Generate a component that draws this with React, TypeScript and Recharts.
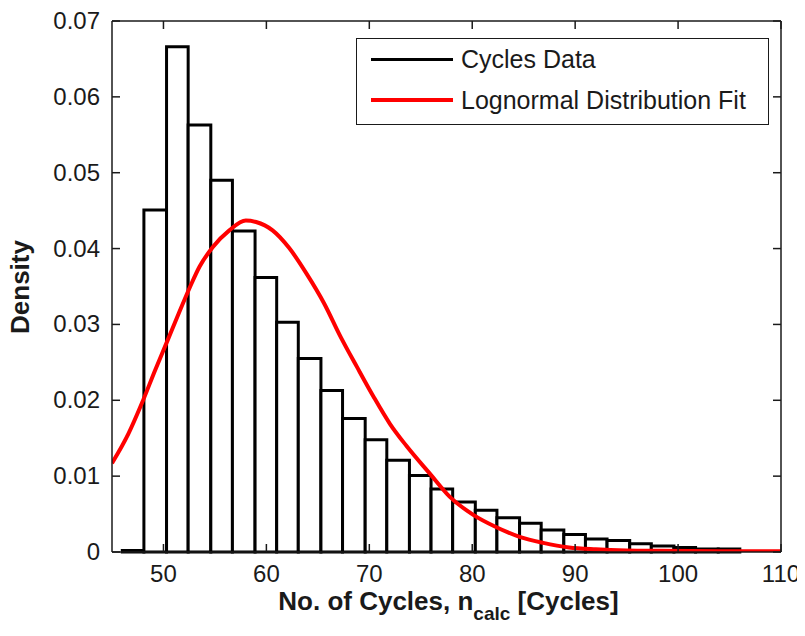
import { ComposedChart, Line, XAxis, YAxis, ReferenceArea, Legend } from "recharts";

// histogram bins (edges + density per bin)
const binEdges = [
  46.0, 48.1, 50.3, 52.4, 54.6, 56.7, 58.9, 61.0, 63.1, 65.3, 67.4, 69.6, 71.7, 73.9, 76.0,
  78.1, 80.3, 82.4, 84.6, 86.7, 88.9, 91.0, 93.1, 95.3, 97.4, 99.6, 101.7, 103.9, 106.0,
];
const binDensity = [
  0.0002, 0.0451, 0.0666, 0.0563, 0.049, 0.0423, 0.0362, 0.0303, 0.0255, 0.0213, 0.0176,
  0.0148, 0.0121, 0.0101, 0.0083, 0.0066, 0.0055, 0.0045, 0.0038, 0.0029, 0.0023, 0.0017,
  0.0015, 0.0011, 0.0008, 0.0006, 0.0004, 0.0004,
];

// lognormal fit curve samples
const fitX = [
  45, 46.6, 47.9, 49.2, 50.4, 51.5, 52.6, 53.5, 54.8, 56.4, 58, 59, 60.6, 62.2, 63.9, 65.6,
  67.2, 68.8, 70.4, 72, 73.6, 75.9, 77.8, 80.1, 82.3, 84.6, 86.9, 89.4, 92, 95, 98.4, 104, 110,
];
const fitDensity = [
  0.0117, 0.0156, 0.0196, 0.024, 0.0279, 0.0315, 0.035, 0.0376, 0.0402, 0.0424, 0.0437,
  0.0435, 0.0424, 0.0401, 0.0367, 0.0328, 0.0284, 0.0244, 0.0205, 0.0169, 0.014, 0.0103,
  0.0073, 0.0049, 0.0033, 0.002, 0.0012, 0.0006, 0.00035, 0.0002, 0.00015, 0.0001, 0.0001,
];

const xTicks = [50, 60, 70, 80, 90, 100, 110];
const yTicks = [0, 0.01, 0.02, 0.03, 0.04, 0.05, 0.06, 0.07];

const legendItems = [
  { label: "Cycles Data", color: "#000000", width: 3 },
  { label: "Lognormal Distribution Fit", color: "#ff0000", width: 4 },
];

const FONT = '"Liberation Sans", Arial, Helvetica, sans-serif';
const INK = "#1a1a1a";
const TICK_LEN = 8;

const data = fitX.map((x, i) => ({ x, fit: fitDensity[i] }));

const fmtY = (v: number) => (v === 0 ? "0" : v.toFixed(2));

function BottomTick({ x, y, payload }: any) {
  return (
    <g>
      <line x1={x} y1={y} x2={x} y2={y - TICK_LEN} stroke={INK} strokeWidth={1.5} />
      <text x={x} y={y + 30} textAnchor="middle" fontFamily={FONT} fontSize={24} fill={INK}>
        {payload.value}
      </text>
    </g>
  );
}

function TopTick({ x, y }: any) {
  return <line x1={x} y1={y} x2={x} y2={y + TICK_LEN} stroke={INK} strokeWidth={1.5} />;
}

function LeftTick({ x, y, payload }: any) {
  return (
    <g>
      <line x1={x} y1={y} x2={x + TICK_LEN} y2={y} stroke={INK} strokeWidth={1.5} />
      <text x={x - 12} y={y + 8} textAnchor="end" fontFamily={FONT} fontSize={24} fill={INK}>
        {fmtY(payload.value)}
      </text>
    </g>
  );
}

function RightTick({ x, y }: any) {
  return <line x1={x} y1={y} x2={x - TICK_LEN} y2={y} stroke={INK} strokeWidth={1.5} />;
}

function XLabel({ viewBox }: any) {
  const cx = viewBox.x + viewBox.width / 2;
  return (
    <text x={cx + 2} y={610} textAnchor="middle" fontFamily={FONT} fontSize={26} fontWeight="bold" fill={INK}>
      <tspan>No. of Cycles, n</tspan>
      <tspan fontSize={19} dy={10}>calc</tspan>
      <tspan dy={-10}> [Cycles]</tspan>
    </text>
  );
}

function YLabel() {
  return (
    <text
      x={29}
      y={287}
      transform="rotate(-90 29 287)"
      textAnchor="middle"
      fontFamily={FONT}
      fontSize={26}
      fontWeight="bold"
      fill={INK}
    >
      Density
    </text>
  );
}

function LegendBox() {
  return (
    <div
      style={{
        width: 413,
        height: 87,
        boxSizing: "border-box",
        border: `1.5px solid ${INK}`,
        background: "#fff",
        position: "relative",
        fontFamily: FONT,
        fontSize: 25,
        color: INK,
      }}
    >
      {legendItems.map((item, i) => (
        <div
          key={item.label}
          style={{
            position: "absolute",
            top: (i === 0 ? 20 : 61) - 15,
            left: 14,
            height: 30,
            display: "flex",
            alignItems: "center",
            whiteSpace: "nowrap",
          }}
        >
          <div style={{ width: 82, height: item.width, background: item.color, marginRight: 8 }} />
          <span>{item.label}</span>
        </div>
      ))}
    </div>
  );
}

export default function App() {
  return (
    <div style={{ margin: -8 }}>
      <ComposedChart
        width={805}
        height={636}
        data={data}
        margin={{ top: 20, right: 23, bottom: 83, left: 111 }}
      >
        <XAxis
          xAxisId="b"
          dataKey="x"
          type="number"
          domain={[45, 110]}
          ticks={xTicks}
          height={1}
          tickSize={0}
          tickMargin={0}
          tickLine={false}
          tick={<BottomTick />}
          axisLine={{ stroke: INK, strokeWidth: 1.5 }}
          allowDataOverflow
          label={<XLabel />}
        />
        <XAxis
          xAxisId="t"
          orientation="top"
          dataKey="x"
          type="number"
          domain={[45, 110]}
          ticks={xTicks}
          height={1}
          tickSize={0}
          tickMargin={0}
          tickLine={false}
          tick={<TopTick />}
          axisLine={{ stroke: INK, strokeWidth: 1.5 }}
          allowDataOverflow
        />
        <YAxis
          yAxisId="l"
          type="number"
          domain={[0, 0.07]}
          ticks={yTicks}
          width={1}
          tickSize={0}
          tickMargin={0}
          tickLine={false}
          tick={<LeftTick />}
          axisLine={{ stroke: INK, strokeWidth: 1.5 }}
          allowDataOverflow
          label={<YLabel />}
        />
        <YAxis
          yAxisId="r"
          orientation="right"
          type="number"
          domain={[0, 0.07]}
          ticks={yTicks}
          width={1}
          tickSize={0}
          tickMargin={0}
          tickLine={false}
          tick={<RightTick />}
          axisLine={{ stroke: INK, strokeWidth: 1.5 }}
          allowDataOverflow
        />
        {binDensity.map((d, i) => (
          <ReferenceArea
            key={i}
            xAxisId="b"
            yAxisId="l"
            x1={binEdges[i]}
            x2={binEdges[i + 1]}
            y1={0}
            y2={d}
            fill="#ffffff"
            fillOpacity={1}
            stroke="#000000"
            strokeWidth={3}
          />
        ))}
        <Line
          xAxisId="b"
          yAxisId="l"
          dataKey="fit"
          type="monotone"
          stroke="#ff0000"
          strokeWidth={4}
          dot={false}
          activeDot={false}
          isAnimationActive={false}
        />
        <Legend
          layout="horizontal"
          align="center"
          verticalAlign="middle"
          content={<LegendBox />}
          wrapperStyle={{ top: 38, left: 356, width: 413 }}
        />
      </ComposedChart>
    </div>
  );
}
